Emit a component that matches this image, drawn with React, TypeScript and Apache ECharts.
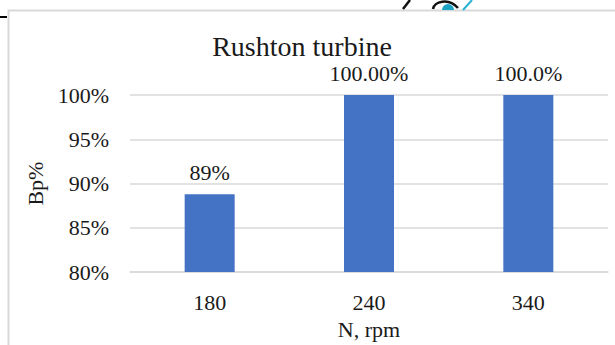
import React, { useEffect, useRef } from "react";
import * as echarts from "echarts";

const categories = ["180", "240", "340"];
const bpValues = [88.8, 100, 100];
const valueLabels = ["89%", "100.00%", "100.0%"];
const yTicks = { min: 80, max: 100, step: 5 };

const FONT = "Liberation Serif";
const TEXT = "#1a1a1a";

export default function App() {
  const ref = useRef<HTMLDivElement>(null);

  useEffect(() => {
    if (!ref.current) return;
    const chart = echarts.init(ref.current, undefined, { renderer: "svg" });
    chart.setOption({
      animation: false,
      backgroundColor: "#ffffff",
      textStyle: { fontFamily: FONT, color: TEXT },
      title: {
        text: "Rushton turbine",
        left: 302,
        textAlign: "center",
        top: 32,
        padding: 0,
        textStyle: {
          fontFamily: FONT,
          fontSize: 28,
          lineHeight: 28,
          fontWeight: "normal",
          color: TEXT,
        },
      },
      grid: { left: 130, right: 7, top: 95, height: 183 },
      xAxis: {
        type: "category",
        data: categories,
        name: "N, rpm",
        nameLocation: "middle",
        nameGap: 41,
        nameTextStyle: { fontFamily: FONT, fontSize: 22, color: TEXT },
        axisLine: { show: true, lineStyle: { color: "#d9d9d9", width: 1.5 } },
        axisTick: { show: false },
        axisLabel: { fontFamily: FONT, fontSize: 22, color: TEXT, margin: 19 },
      },
      yAxis: {
        type: "value",
        min: yTicks.min,
        max: yTicks.max,
        interval: yTicks.step,
        name: "Bp%",
        nameLocation: "middle",
        nameRotate: 90,
        nameGap: 71,
        nameTextStyle: { fontFamily: FONT, fontSize: 22, color: TEXT },
        axisLine: { show: false },
        axisTick: { show: false },
        axisLabel: {
          fontFamily: FONT,
          fontSize: 22,
          color: TEXT,
          margin: 21,
          formatter: (v: number) => `${v}%`,
        },
        splitLine: { lineStyle: { color: "#d9d9d9", width: 1.5 } },
      },
      series: [
        {
          type: "bar",
          barWidth: 50,
          data: bpValues.map((v, i) => ({
            value: v,
            label: {
              show: true,
              position: "top",
              distance: 11,
              formatter: valueLabels[i],
              fontFamily: FONT,
              fontSize: 22,
              lineHeight: 22,
              color: TEXT,
            },
          })),
          itemStyle: { color: "#4472C4" },
        },
      ],
      graphic: [
        {
          type: "rect",
          shape: { x: 8.5, y: 10.5, width: 700, height: 400 },
          style: { fill: "none", stroke: "#d9d9d9", lineWidth: 2 },
          z: -1,
        },
        { type: "rect", shape: { x: 0, y: 16, width: 7, height: 2 }, style: { fill: "#000" } },
        {
          type: "line",
          shape: { x1: 403, y1: 9, x2: 410, y2: 0 },
          style: { stroke: "#111", lineWidth: 2.5 },
        },
        {
          type: "bezierCurve",
          shape: { x1: 433, y1: 9, cpx1: 434, cpy1: 2, x2: 458, y2: 8, cpx2: 448, cpy2: -3 },
          style: { stroke: "#111", lineWidth: 2.5, fill: "none" },
        },
        {
          type: "sector",
          shape: { cx: 448, cy: 10, r: 6, startAngle: Math.PI, endAngle: Math.PI * 2 },
          style: { fill: "#1ba3c6" },
        },
        {
          type: "line",
          shape: { x1: 463, y1: 10, x2: 472, y2: 0 },
          style: { stroke: "#27b3d3", lineWidth: 2 },
        },
      ],
    });
    return () => chart.dispose();
  }, []);

  return (
    <div
      ref={ref}
      style={{ position: "fixed", left: 0, top: 0, width: 615, height: 345 }}
    />
  );
}
